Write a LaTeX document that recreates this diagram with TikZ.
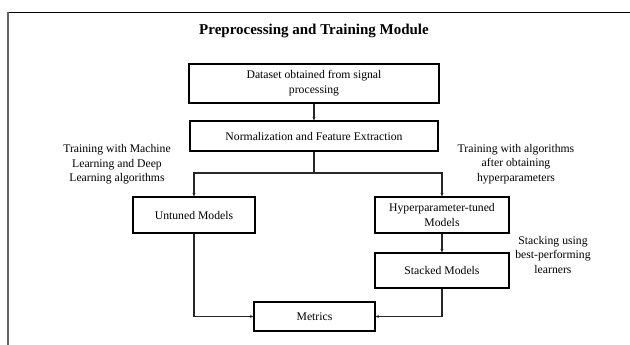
\documentclass[tikz,border=0pt]{standalone}
\usepackage{fontspec}
\setmainfont{Liberation Serif}
\usetikzlibrary{arrows.meta}
\begin{document}
\begin{tikzpicture}[x=1pt,y=-1pt,
  box/.style={draw=black,line width=1.1pt,align=center,inner sep=0pt,font=\fontsize{11.7}{15}\selectfont},
  lbl/.style={align=center,inner sep=0pt,font=\fontsize{11.7}{14.5}\selectfont},
  conn/.style={draw=black!85,line width=1.1pt},
  arr/.style={conn,-{Stealth[length=3.5pt,width=3pt]}}]
\useasboundingbox (0,0) rectangle (630,345);
\draw[black,line width=1.2pt] (8,12.5) -- (630,12.5);
\draw[black!60,line width=1.8pt] (8,12) -- (8,345);
\node[font=\fontsize{15}{17}\selectfont\bfseries] (title) at (314,31) {Preprocessing and Training Module};
\node[box,minimum width=250pt,minimum height=39pt] (b1) at (314,83.5) {Dataset obtained from signal\\processing};
\node[box,minimum width=248pt,minimum height=30pt] (b2) at (314,136) {Normalization and Feature Extraction};
\node[box,minimum width=122pt,minimum height=36pt] (un) at (194,215) {Untuned Models};
\node[box,minimum width=134pt,minimum height=36pt] (hy) at (442,215) {Hyperparameter-tuned\\Models};
\node[box,minimum width=134pt,minimum height=35pt] (st) at (442,270.5) {Stacked Models};
\node[box,minimum width=121pt,minimum height=29pt] (me) at (314.5,316.5) {Metrics};
\node[lbl] (l1) at (117,164.5) {Training with Machine\\Learning and Deep\\Learning algorithms};
\node[lbl] (l2) at (516,164) {Training with algorithms\\after obtaining\\hyperparameters};
\node[lbl] (l3) at (553,254.5) {Stacking using\\best-performing\\learners};
\coordinate (j) at (314,173);
\draw[arr] (b1.south) -- (b2.north);
\draw[conn] (b2.south) -- (j);
\draw[arr] (j) -| (un.north);
\draw[arr] (j) -| (hy.north);
\draw[arr] (hy.south) -- (st.north);
\draw[arr] (un.south) |- (me.west);
\draw[arr] (st.south) |- (me.east);
\end{tikzpicture}
\end{document}
